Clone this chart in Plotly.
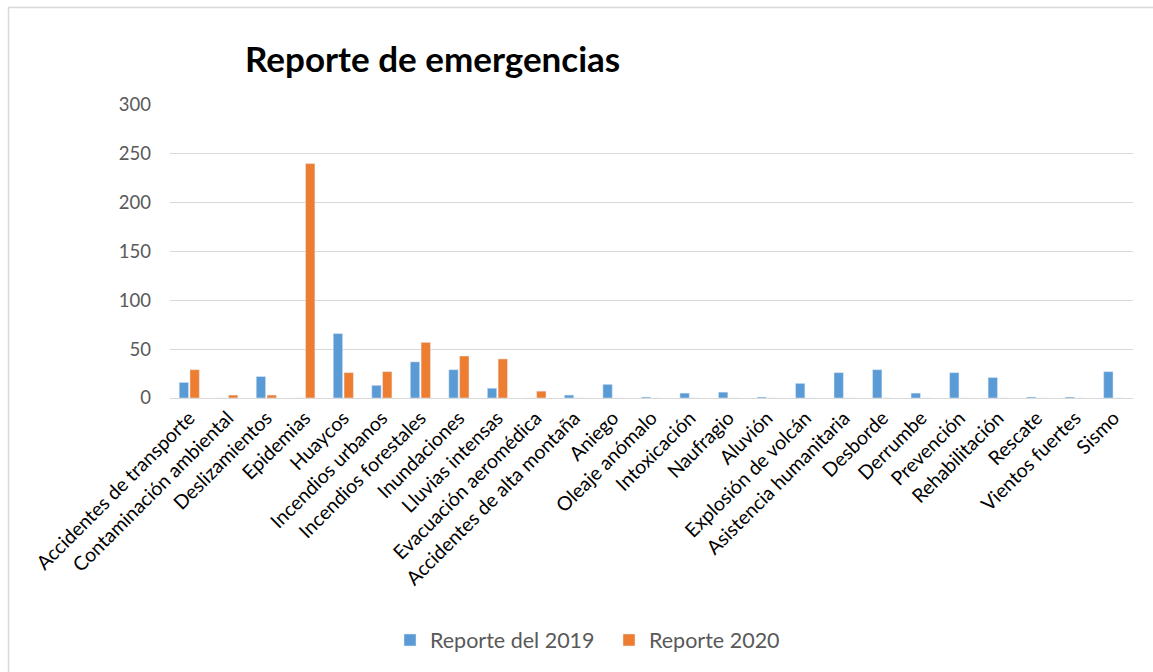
import plotly.graph_objects as go

categories = [
    "Accidentes de transporte", "Contaminación ambiental", "Deslizamientos", "Epidemias",
    "Huaycos", "Incendios urbanos", "Incendios forestales", "Inundaciones",
    "Lluvias intensas", "Evacuación aeromédica", "Accidentes de alta montaña", "Aniego",
    "Oleaje anómalo", "Intoxicación", "Naufragio", "Aluvión", "Explosión de volcán",
    "Asistencia humanitaria", "Desborde", "Derrumbe", "Prevención", "Rehabilitación",
    "Rescate", "Vientos fuertes", "Sismo",
]
reporte_2019 = [16, 0, 22, 0, 66, 13, 37, 29, 10, 0, 3, 14, 1, 5, 6, 1, 15, 26, 29, 5, 26, 21, 1, 1, 27]
reporte_2020 = [29, 3, 3, 240, 26, 27, 57, 43, 40, 7, 0, 0, 0, 0, 0, 0, 0, 0, 0, 0, 0, 0, 0, 0, 0]
y_ticks = [0, 50, 100, 150, 200, 250, 300]

FONT = "Lato"
W, H = 1153, 672
L, R, T, B = 170, 1133, 105, 398

fig = go.Figure()
fig.add_trace(go.Bar(x=categories, y=reporte_2019, name="Reporte del 2019",
                     marker=dict(color="#5B9BD5")))
fig.add_trace(go.Bar(x=categories, y=reporte_2020, name="Reporte 2020",
                     marker=dict(color="#ED7D31")))

pw, ph = R - L, B - T
def px_x(x):
    return (x - L) / pw
def px_y(y):
    return (B - y) / ph

fig.update_layout(
    width=W, height=H,
    margin=dict(l=L, r=W - R, t=T, b=H - B, autoexpand=False),
    paper_bgcolor="white", plot_bgcolor="white",
    font=dict(family=FONT, color="#595959"),
    barmode="group", bargap=0.44, bargroupgap=0.13,
    title=dict(text="<b>Reporte de emergencias</b>", x=245 / W, xanchor="left",
               xref="container", y=1 - 60 / H, yanchor="middle", yref="container",
               font=dict(family=FONT, size=35, color="#000000")),
    xaxis=dict(tickangle=-45, tickfont=dict(family=FONT, size=19.5, color="#000000"),
               showgrid=False, showline=True, linecolor="#d9d9d9", linewidth=1,
               ticks="", automargin=False),
    yaxis=dict(range=[0, 300], tickvals=y_ticks, showgrid=True, gridcolor="#d9d9d9",
               gridwidth=1, zeroline=False, tickfont=dict(family=FONT, size=18.5, color="#595959"),
               ticks="", ticklen=0, automargin=False),
    legend=dict(orientation="h", x=px_x(390), xanchor="left", y=px_y(640), yanchor="middle",
                font=dict(family=FONT, size=21.5, color="#595959"), itemwidth=30,
                entrywidth=174, entrywidthmode="pixels", traceorder="normal"),
    shapes=[dict(type="rect", xref="paper", yref="paper",
                 x0=px_x(8.5), x1=px_x(1170), y0=px_y(690), y1=px_y(7.5),
                 line=dict(color="#d9d9d9", width=1.5), layer="below")],
)
fig.update_yaxes(ticklabelstandoff=18)

fig.write_html("out.html", config={"displayModeBar": False},
               post_script="document.body.style.margin='0';document.body.style.overflow='hidden';")
